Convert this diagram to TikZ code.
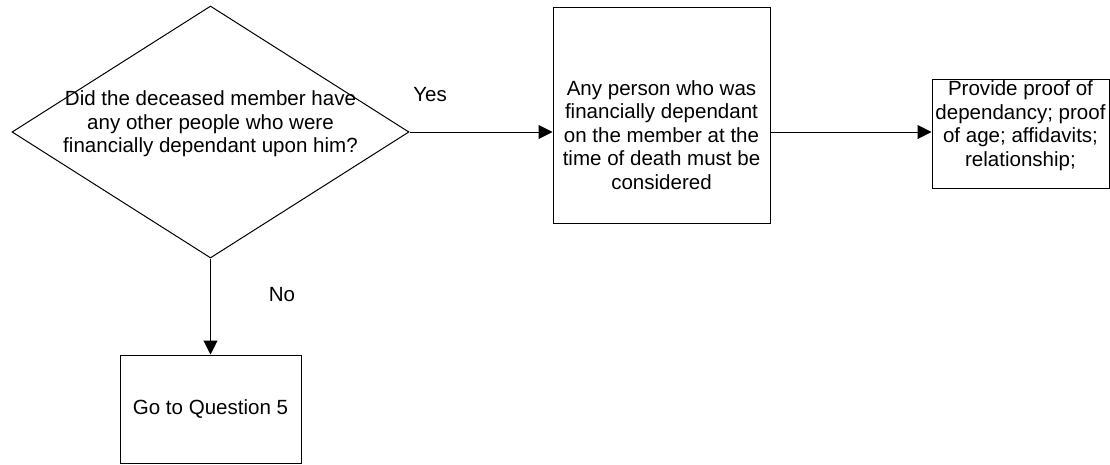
\documentclass[tikz,border=0pt]{standalone}
\usepackage{fontspec}
\setmainfont{Liberation Sans}
\usetikzlibrary{shapes.geometric,arrows.meta}
\begin{document}
\begin{tikzpicture}[x=0.75pt, y=-0.75pt, line width=0.75pt,
	decision/.style={diamond, draw, inner sep=0pt, aspect=1.6, minimum width=297.75pt, minimum height=189pt},
	stepbox/.style={rectangle, draw, inner sep=0pt},
	caption/.style={align=center, inner sep=0pt, font=\fontsize{15.4pt}{17.6pt}\selectfont},
	arrow/.style={-{Triangle[length=10.5pt, width=10.5pt]}}]
	\useasboundingbox (0,0) rectangle (1110,464);
	% shapes
	\node[decision] (q4) at (210.5,132) {};
	\node[stepbox, minimum width=162.75pt, minimum height=162pt] (dep) at (661.5,115) {};
	\node[stepbox, minimum width=132.75pt, minimum height=81.75pt] (proof) at (1020.5,133.5) {};
	\node[stepbox, minimum width=135.75pt, minimum height=81pt] (goto) at (210.5,409) {};
	% texts
	\node[caption] (q4text) at (210.5,124) {Did the deceased member have\\any other people who were\\financially dependant upon him?};
	\node[caption] (deptext) at (661.5,135) {Any person who was\\financially dependant\\on the member at the\\time of death must be\\considered};
	\node[caption] (prooftext) at (1020.5,125.5) {Provide proof of\\dependancy; proof\\of age; affidavits;\\relationship;};
	\node[caption] (gototext) at (210.5,409) {Go to Question 5};
	\node[caption] (yes) at (430,95) {Yes};
	\node[caption] (no) at (282,295) {No};
	% connectors
	\draw[arrow] (q4.east) -- (q4.east -| dep.west);
	\draw[arrow] (q4.east -| dep.east) -- (q4.east -| proof.west);
	\draw[arrow] (q4.south) -- (goto.north);
\end{tikzpicture}
\end{document}
